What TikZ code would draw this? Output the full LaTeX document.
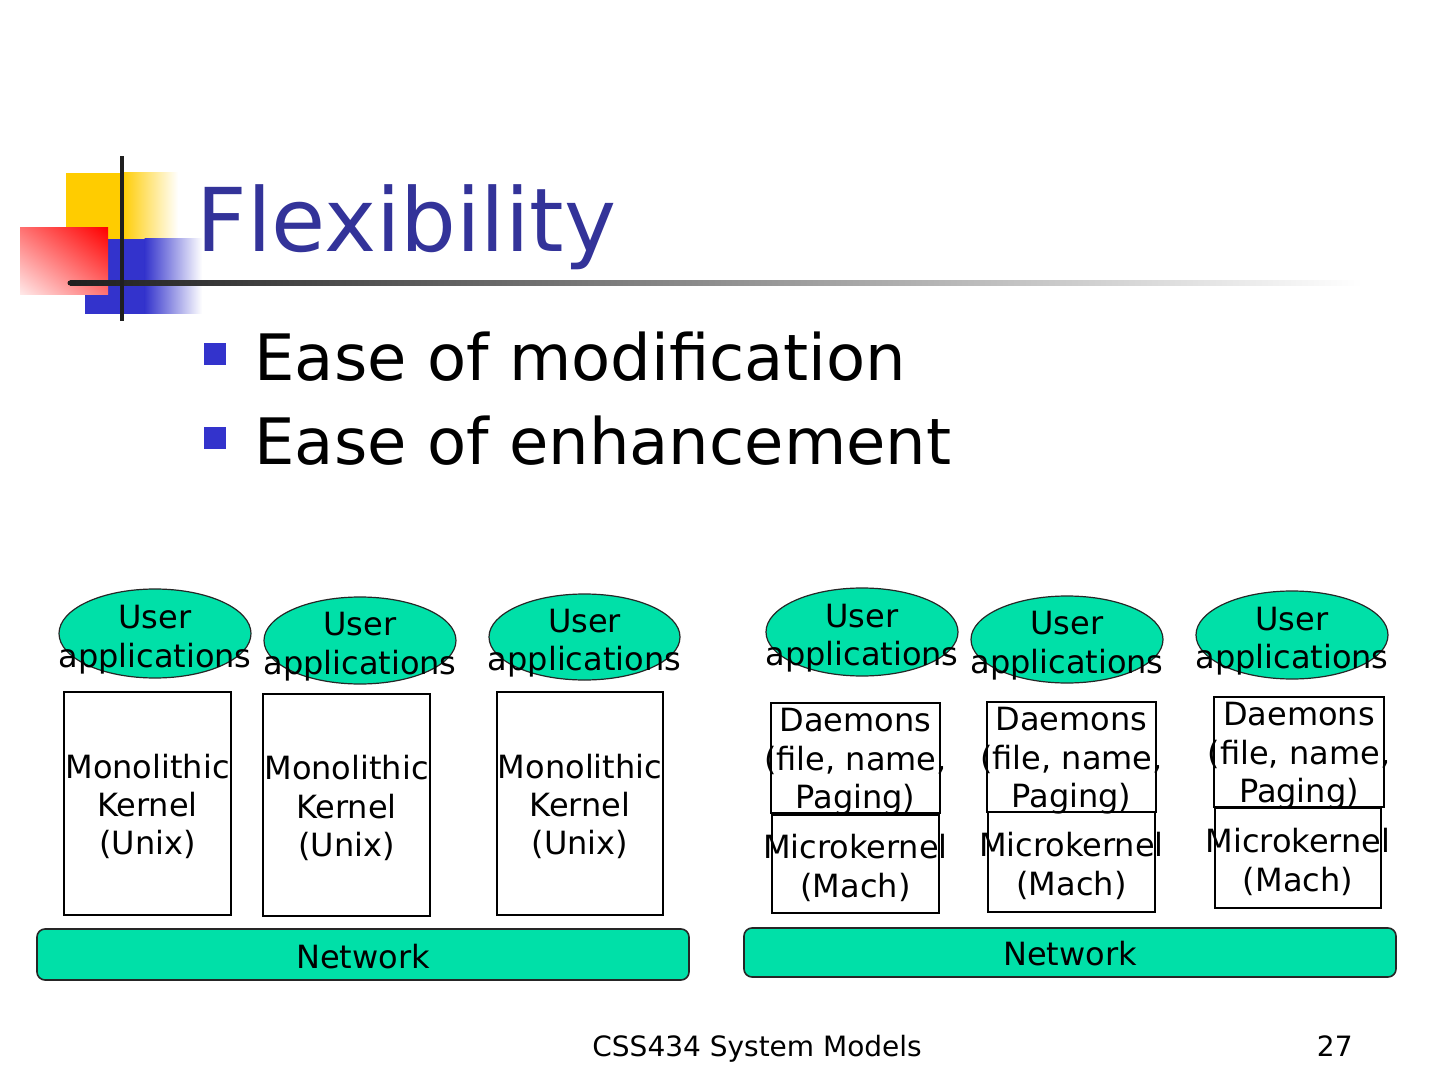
\documentclass[tikz,border=0pt]{standalone}
\usepackage{fontspec}
\setmainfont{DejaVu Sans}
\usetikzlibrary{shapes.geometric,calc,shadings}
\definecolor{appg}{RGB}{0,224,168}
\definecolor{titleblue}{RGB}{51,51,153}
\definecolor{bulletblue}{RGB}{51,51,204}
\definecolor{logoyellow}{RGB}{255,204,0}
\definecolor{logoblue}{RGB}{51,51,204}
\begin{document}
\begin{tikzpicture}[x=0.5pt,y=-0.5pt,
  app/.style={ellipse,draw=black!85,line width=0.6pt,fill=appg,inner sep=0pt},
  txt/.style={font=\fontsize{16}{19.2}\selectfont,align=center,inner sep=0pt},
  kbox/.style={draw=black,line width=1pt,fill=white,inner sep=0pt},
  net/.style={draw=black!85,line width=0.8pt,fill=appg,rounded corners=4pt,inner sep=0pt},
  bsq/.style={fill=bulletblue,draw=none,inner sep=0pt,minimum size=11pt}
]
\useasboundingbox (0,0) rectangle (1440,1080);
\fill[white] (0,0) rectangle (1440,1080);

% logo
\fill[logoyellow] (66,173) rectangle (122,240);
\shade[left color=logoyellow,right color=white] (121.5,173) rectangle (178,240);
\fill[logoblue] (85,239) rectangle (145,314);
\shade[left color=logoblue,right color=white] (144.5,239) rectangle (202,314);
\shade[upper right=red,upper left=red!55,lower right=red!55,lower left=red!8] (20,228) rectangle (108,295);
\shade[left color=black!88,right color=white] (70,280.5) rectangle (1362,285.5);
\fill[black!88] (70,283) circle (2.5);
\fill[black!88] (120,156) rectangle (124,321);

% title and bullets
\node[anchor=base west,inner sep=0pt,text=titleblue,font=\fontsize{44}{50}\selectfont] (title) at (196,252) {Flexibility};
\node[bsq,anchor=north west] (b1) at (204,343) {};
\node[bsq,anchor=north west] (b2) at (204,427) {};
\node[anchor=base west,inner sep=0pt,font=\fontsize{32}{38}\selectfont] (t1) at (254,381) {Ease of modification};
\node[anchor=base west,inner sep=0pt,font=\fontsize{32}{38}\selectfont] (t2) at (254,465) {Ease of enhancement};

% left: monolithic
\node[app,minimum width=96pt,minimum height=44.5pt] (e1) at (155,633.5) {};
\node[app,minimum width=96pt,minimum height=43.5pt] (e2) at (360,640.5) {};
\node[app,minimum width=95.5pt,minimum height=43pt] (e3) at (584.5,637) {};
\node[txt] (e1t) at ($(e1.center)+(0,6)$) {User\\applications};
\node[txt] (e2t) at ($(e2.center)+(0,6)$) {User\\applications};
\node[txt] (e3t) at ($(e3.center)+(0,6)$) {User\\applications};

\node[kbox,minimum width=83.5pt,minimum height=111.5pt] (k1) at (147.5,803.5) {};
\node[kbox,minimum width=83.5pt,minimum height=111pt] (k2) at (346.5,805) {};
\node[kbox,minimum width=83pt,minimum height=111.5pt] (k3) at (580,803.5) {};
\node[txt] (k1t) at ($(k1.center)+(0,3)$) {Monolithic\\Kernel\\(Unix)};
\node[txt] (k2t) at ($(k2.center)+(0,3)$) {Monolithic\\Kernel\\(Unix)};
\node[txt] (k3t) at ($(k3.center)+(0,3)$) {Monolithic\\Kernel\\(Unix)};

\node[net,minimum width=326pt,minimum height=25.5pt] (n1) at (363,954.5) {};
\node[txt] (n1t) at ($(n1.center)+(0,2)$) {Network};

% right: microkernel
\node[app,minimum width=96pt,minimum height=44pt] (e4) at (862,632) {};
\node[app,minimum width=96pt,minimum height=43.5pt] (e5) at (1067,639.5) {};
\node[app,minimum width=96pt,minimum height=44pt] (e6) at (1292,635) {};
\node[txt] (e4t) at ($(e4.center)+(0,6)$) {User\\applications};
\node[txt] (e5t) at ($(e5.center)+(0,6)$) {User\\applications};
\node[txt] (e6t) at ($(e6.center)+(0,6)$) {User\\applications};

\node[kbox,minimum width=84.5pt,minimum height=55pt] (d4) at (855.5,758) {};
\node[kbox,minimum width=83.5pt,minimum height=49pt] (m4) at (855.5,864) {};
\node[kbox,minimum width=84.5pt,minimum height=55pt] (d5) at (1071.5,757) {};
\node[kbox,minimum width=83.5pt,minimum height=50pt] (m5) at (1071.5,862) {};
\node[kbox,minimum width=85pt,minimum height=55pt] (d6) at (1299,752) {};
\node[kbox,minimum width=83pt,minimum height=50pt] (m6) at (1298,858) {};
\node[txt] (d4t) at ($(d4.center)+(0,4)$) {Daemons\\(file, name,\\Paging)};
\node[txt] (d5t) at ($(d5.center)+(0,4)$) {Daemons\\(file, name,\\Paging)};
\node[txt] (d6t) at ($(d6.center)+(0,4)$) {Daemons\\(file, name,\\Paging)};
\node[txt] (m4t) at ($(m4.center)+(0,4)$) {Microkernel\\(Mach)};
\node[txt] (m5t) at ($(m5.center)+(0,4)$) {Microkernel\\(Mach)};
\node[txt] (m6t) at ($(m6.center)+(0,4)$) {Microkernel\\(Mach)};

\node[net,minimum width=326pt,minimum height=24.5pt] (n2) at (1070,952.5) {};
\node[txt] (n2t) at ($(n2.center)+(0,1)$) {Network};

% footer
\node[anchor=base west,inner sep=0pt,font=\fontsize{14}{17}\selectfont] (foot) at (592,1056) {CSS434 System Models};
\node[anchor=base east,inner sep=0pt,font=\fontsize{14}{17}\selectfont] (pg) at (1353,1056) {27};
\end{tikzpicture}
\end{document}
